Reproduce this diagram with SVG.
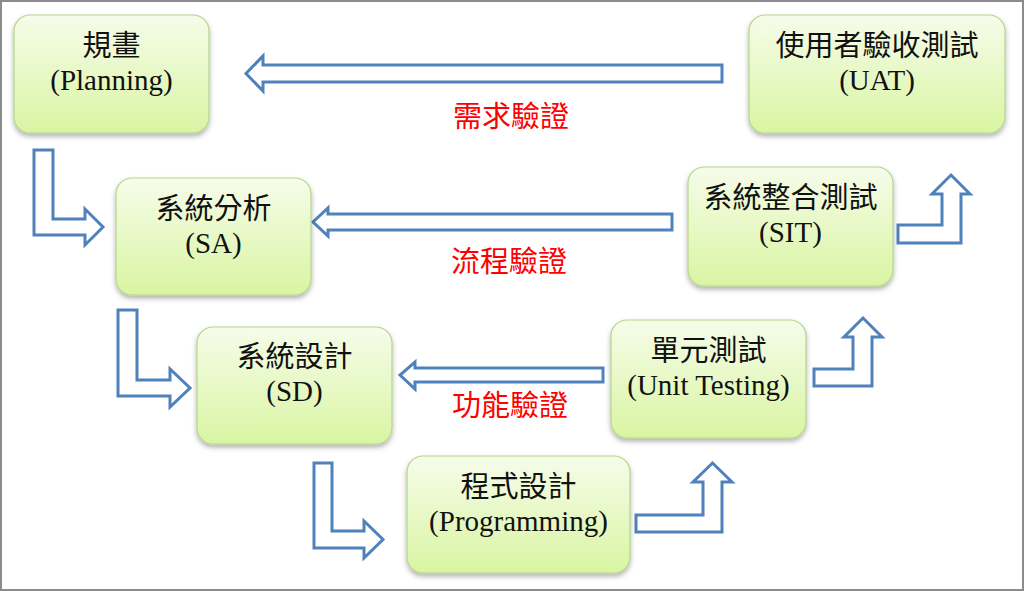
<svg xmlns="http://www.w3.org/2000/svg" width="1024" height="591" viewBox="0 0 1024 591">
<defs>
<linearGradient id="g" x1="0" y1="0" x2="0" y2="1">
<stop offset="0" stop-color="#f6fcea"/>
<stop offset="1" stop-color="#d9f5a2"/>
</linearGradient>
<filter id="sh" x="-10%" y="-10%" width="120%" height="130%">
<feDropShadow dx="0" dy="3" stdDeviation="2.5" flood-color="#000" flood-opacity="0.3"/>
</filter>
<style>
.box{fill:url(#g);stroke:#b3d68a;stroke-width:1.2;filter:url(#sh)}
.t{font-family:"Liberation Serif","Noto Sans CJK TC",serif;font-size:29px;fill:#111;text-anchor:middle}
.lbl{font-family:"Liberation Serif","Noto Sans CJK TC",serif;font-size:29px;fill:#ff0000;text-anchor:middle}
.arr{fill:#fff;stroke:#4f81bd;stroke-width:3;stroke-linejoin:miter}
</style>
</defs>
<rect x="0" y="0" width="1024" height="591" fill="#fff"/>
<rect x="1" y="1" width="1022" height="589" fill="none" stroke="#8c8c8c" stroke-width="2"/>

<g id="connectors">
<path class="arr" d="M722,65 L263,65 L263,56 L246,73.5 L263,91 L263,82 L722,82 Z"/>
<path class="arr" d="M672,214 L328,214 L328,208 L313,222 L328,236 L328,230 L672,230 Z"/>
<path class="arr" d="M603,368 L415,368 L415,362 L400,375 L415,389 L415,382 L603,382 Z"/>
<path class="arr" d="M34,150 L53,150 L53,219 L85,219 L85,209 L103,227 L85,245 L85,235 L34,235 Z"/>
<path class="arr" d="M118,310 L137,310 L137,380 L170,380 L170,369 L190,388 L170,407 L170,396 L118,396 Z"/>
<path class="arr" d="M314,463 L332,463 L332,531 L364,531 L364,521 L383,539.5 L364,558 L364,548 L314,548 Z"/>
<path class="arr" d="M636,515 L703,515 L703,482 L693,482 L712.5,463 L732,482 L722,482 L722,532 L636,532 Z"/>
<path class="arr" d="M814,369 L853,369 L853,337 L844,337 L863,318 L882,337 L872,337 L872,386 L814,386 Z"/>
<path class="arr" d="M898,225 L942,225 L942,194 L932,194 L951,175 L970,194 L961,194 L961,243 L898,243 Z"/>
<text class="lbl" x="511" y="127">需求驗證</text>
<text class="lbl" x="509" y="272">流程驗證</text>
<text class="lbl" x="510" y="416">功能驗證</text>
</g>

<g id="planning">
<rect class="box" x="14" y="15" width="195" height="118" rx="16"/>
<text class="t" x="111.5" y="56">規畫</text>
<text class="t" x="111.5" y="90">(Planning)</text>
</g>
<g id="uat">
<rect class="box" x="749" y="15" width="256" height="118" rx="16"/>
<text class="t" x="877" y="56">使用者驗收測試</text>
<text class="t" x="877" y="90">(UAT)</text>
</g>
<g id="sa">
<rect class="box" x="116" y="178" width="195" height="117" rx="16"/>
<text class="t" x="213.5" y="219">系統分析</text>
<text class="t" x="213.5" y="253">(SA)</text>
</g>
<g id="sit">
<rect class="box" x="688" y="167" width="205" height="119" rx="16"/>
<text class="t" x="790.5" y="208">系統整合測試</text>
<text class="t" x="790.5" y="242">(SIT)</text>
</g>
<g id="sd">
<rect class="box" x="197" y="327" width="195" height="117" rx="16"/>
<text class="t" x="294.5" y="367">系統設計</text>
<text class="t" x="294.5" y="401">(SD)</text>
</g>
<g id="unit">
<rect class="box" x="611" y="320" width="195" height="118" rx="16"/>
<text class="t" x="708.5" y="361">單元測試</text>
<text class="t" x="708.5" y="395">(Unit Testing)</text>
</g>
<g id="programming">
<rect class="box" x="407" y="456" width="223" height="117" rx="16"/>
<text class="t" x="518.5" y="497">程式設計</text>
<text class="t" x="518.5" y="531">(Programming)</text>
</g>
</svg>
